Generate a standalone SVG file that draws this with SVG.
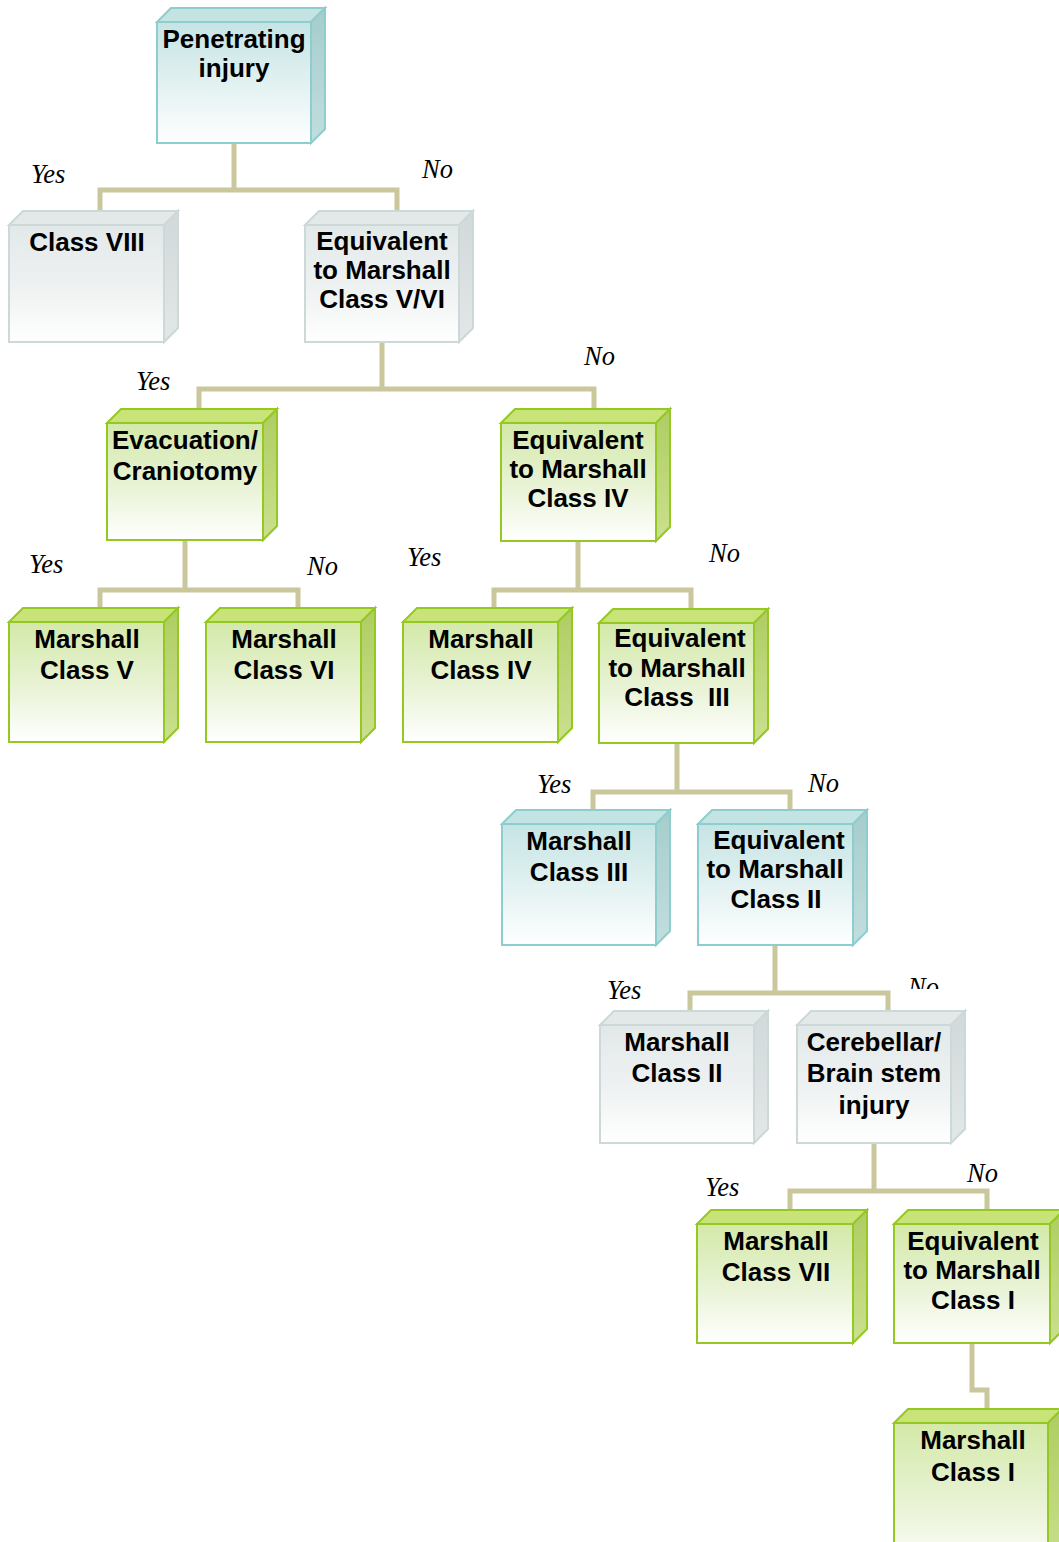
<svg xmlns="http://www.w3.org/2000/svg" width="1059" height="1542" viewBox="0 0 1059 1542">
<defs>
<linearGradient id="gBlue" x1="0" y1="0" x2="0" y2="1"><stop offset="0" stop-color="#c6e4e4"/><stop offset="0.55" stop-color="#e4f2f2"/><stop offset="1" stop-color="#ffffff"/></linearGradient>
<linearGradient id="gGray" x1="0" y1="0" x2="0" y2="1"><stop offset="0" stop-color="#e2e8e8"/><stop offset="0.55" stop-color="#eff2f2"/><stop offset="1" stop-color="#ffffff"/></linearGradient>
<linearGradient id="gGreen" x1="0" y1="0" x2="0" y2="1"><stop offset="0" stop-color="#d3e9a8"/><stop offset="0.55" stop-color="#e9f3d6"/><stop offset="1" stop-color="#ffffff"/></linearGradient>
<linearGradient id="sBlue" x1="0" y1="0" x2="0" y2="1"><stop offset="0" stop-color="#a6cccc"/><stop offset="1" stop-color="#c2dede"/></linearGradient>
<linearGradient id="sGray" x1="0" y1="0" x2="0" y2="1"><stop offset="0" stop-color="#d2d9da"/><stop offset="1" stop-color="#e2e7e7"/></linearGradient>
<linearGradient id="sGreen" x1="0" y1="0" x2="0" y2="1"><stop offset="0" stop-color="#aecd62"/><stop offset="1" stop-color="#cbe08f"/></linearGradient>
</defs>
<style>
.blue .top{fill:#c4e3e3;stroke:#8ecdcd;stroke-width:2}
.blue .side{fill:url(#sBlue);stroke:#8ecdcd;stroke-width:2}
.blue .front{fill:url(#gBlue);stroke:#8ecdcd;stroke-width:2}
.gray .top{fill:#e3e9e9;stroke:#cdd8d8;stroke-width:2}
.gray .side{fill:url(#sGray);stroke:#cdd8d8;stroke-width:2}
.gray .front{fill:url(#gGray);stroke:#cdd8d8;stroke-width:2}
.green .top{fill:#c8e378;stroke:#95c823;stroke-width:2}
.green .side{fill:url(#sGreen);stroke:#95c823;stroke-width:2}
.green .front{fill:url(#gGreen);stroke:#95c823;stroke-width:2}
.t{font-family:"Liberation Sans",Arial,sans-serif;font-weight:bold;font-size:26px;fill:#000;text-anchor:middle}
.lbl{font-family:"Liberation Serif","Times New Roman",serif;font-style:italic;font-size:26.5px;fill:#000}
.conn{fill:none;stroke:#c9c79b;stroke-width:5;stroke-linejoin:miter;stroke-linecap:butt}
</style>
<g id="connectors">
<path class="conn" d="M234,143 V190 M100,210 V190 H397 V210"/>
<path class="conn" d="M382,342 V389 M199,408 V389 H594 V408"/>
<path class="conn" d="M185,540 V590 M100,608 V590 H298 V608"/>
<path class="conn" d="M578,541 V590 M494,608 V590 H691 V608"/>
<path class="conn" d="M677,743 V792 M593,809 V792 H790 V809"/>
<path class="conn" d="M775,945 V993 M690,1012 V993 H888 V1012"/>
<path class="conn" d="M874,1143 V1191 M790,1210 V1191 H987 V1210"/>
<path class="conn" d="M972,1343 V1390 H987 V1409"/>
</g>
<g id="labels">
<text class="lbl" x="31" y="183">Yes</text>
<text class="lbl" x="422" y="178">No</text>
<text class="lbl" x="136" y="390">Yes</text>
<text class="lbl" x="584" y="365">No</text>
<text class="lbl" x="29" y="573">Yes</text>
<text class="lbl" x="307" y="575">No</text>
<text class="lbl" x="407" y="566">Yes</text>
<text class="lbl" x="709" y="562">No</text>
<text class="lbl" x="537" y="793">Yes</text>
<text class="lbl" x="808" y="792">No</text>
<text class="lbl" x="607" y="999">Yes</text>
<text class="lbl" x="908" y="996">No</text>
<rect x="893" y="989" width="70" height="22" fill="#ffffff"/>
<text class="lbl" x="705" y="1196">Yes</text>
<text class="lbl" x="967" y="1182">No</text>
</g>
<g id="n1" class="blue">
<path class="top" d="M157,22 L171,8 L325,8 L311,22 Z"/><path class="side" d="M311,22 L325,8 L325,129 L311,143 Z"/><rect class="front" x="157" y="22" width="154" height="121"/>
<text class="t" x="234" y="48">Penetrating</text><text class="t" x="234" y="77">injury</text>
</g>
<g id="n2" class="gray">
<path class="top" d="M9,225 L23,211 L178,211 L164,225 Z"/><path class="side" d="M164,225 L178,211 L178,328 L164,342 Z"/><rect class="front" x="9" y="225" width="155" height="117"/>
<text class="t" x="87" y="251">Class VIII</text>
</g>
<g id="n3" class="gray">
<path class="top" d="M305,225 L319,211 L473,211 L459,225 Z"/><path class="side" d="M459,225 L473,211 L473,328 L459,342 Z"/><rect class="front" x="305" y="225" width="154" height="117"/>
<text class="t" x="382" y="250">Equivalent</text><text class="t" x="382" y="279">to Marshall</text><text class="t" x="382" y="308">Class V/VI</text>
</g>
<g id="n4" class="green">
<path class="top" d="M107,423 L121,409 L277,409 L263,423 Z"/><path class="side" d="M263,423 L277,409 L277,526 L263,540 Z"/><rect class="front" x="107" y="423" width="156" height="117"/>
<text class="t" x="185" y="449">Evacuation/</text><text class="t" x="185" y="480">Craniotomy</text>
</g>
<g id="n5" class="green">
<path class="top" d="M501,423 L515,409 L670,409 L656,423 Z"/><path class="side" d="M656,423 L670,409 L670,527 L656,541 Z"/><rect class="front" x="501" y="423" width="155" height="118"/>
<text class="t" x="578" y="449">Equivalent</text><text class="t" x="578" y="478">to Marshall</text><text class="t" x="578" y="507">Class IV</text>
</g>
<g id="n6" class="green">
<path class="top" d="M9,622 L23,608 L178,608 L164,622 Z"/><path class="side" d="M164,622 L178,608 L178,728 L164,742 Z"/><rect class="front" x="9" y="622" width="155" height="120"/>
<text class="t" x="87" y="648">Marshall</text><text class="t" x="87" y="679">Class V</text>
</g>
<g id="n7" class="green">
<path class="top" d="M206,622 L220,608 L375,608 L361,622 Z"/><path class="side" d="M361,622 L375,608 L375,728 L361,742 Z"/><rect class="front" x="206" y="622" width="155" height="120"/>
<text class="t" x="284" y="648">Marshall</text><text class="t" x="284" y="679">Class VI</text>
</g>
<g id="n8" class="green">
<path class="top" d="M403,622 L417,608 L572,608 L558,622 Z"/><path class="side" d="M558,622 L572,608 L572,728 L558,742 Z"/><rect class="front" x="403" y="622" width="155" height="120"/>
<text class="t" x="481" y="648">Marshall</text><text class="t" x="481" y="679">Class IV</text>
</g>
<g id="n9" class="green">
<path class="top" d="M599,623 L613,609 L768,609 L754,623 Z"/><path class="side" d="M754,623 L768,609 L768,729 L754,743 Z"/><rect class="front" x="599" y="623" width="155" height="120"/>
<text class="t" x="680" y="647">Equivalent</text><text class="t" x="677" y="677">to Marshall</text><text class="t" x="677" y="706">Class&#160; III</text>
</g>
<g id="n10" class="blue">
<path class="top" d="M502,824 L516,810 L670,810 L656,824 Z"/><path class="side" d="M656,824 L670,810 L670,931 L656,945 Z"/><rect class="front" x="502" y="824" width="154" height="121"/>
<text class="t" x="579" y="850">Marshall</text><text class="t" x="579" y="881">Class III</text>
</g>
<g id="n11" class="blue">
<path class="top" d="M698,824 L712,810 L867,810 L853,824 Z"/><path class="side" d="M853,824 L867,810 L867,931 L853,945 Z"/><rect class="front" x="698" y="824" width="155" height="121"/>
<text class="t" x="779" y="849">Equivalent</text><text class="t" x="775" y="878">to Marshall</text><text class="t" x="776" y="908">Class II</text>
</g>
<g id="n12" class="gray">
<path class="top" d="M600,1025 L614,1011 L768,1011 L754,1025 Z"/><path class="side" d="M754,1025 L768,1011 L768,1129 L754,1143 Z"/><rect class="front" x="600" y="1025" width="154" height="118"/>
<text class="t" x="677" y="1051">Marshall</text><text class="t" x="677" y="1082">Class II</text>
</g>
<g id="n13" class="gray">
<path class="top" d="M797,1025 L811,1011 L965,1011 L951,1025 Z"/><path class="side" d="M951,1025 L965,1011 L965,1129 L951,1143 Z"/><rect class="front" x="797" y="1025" width="154" height="118"/>
<text class="t" x="874" y="1051">Cerebellar/</text><text class="t" x="874" y="1082">Brain stem</text><text class="t" x="874" y="1114">injury</text>
</g>
<g id="n14" class="green">
<path class="top" d="M697,1224 L711,1210 L867,1210 L853,1224 Z"/><path class="side" d="M853,1224 L867,1210 L867,1329 L853,1343 Z"/><rect class="front" x="697" y="1224" width="156" height="119"/>
<text class="t" x="776" y="1250">Marshall</text><text class="t" x="776" y="1281">Class VII</text>
</g>
<g id="n15" class="green">
<path class="top" d="M894,1224 L908,1210 L1064,1210 L1050,1224 Z"/><path class="side" d="M1050,1224 L1064,1210 L1064,1329 L1050,1343 Z"/><rect class="front" x="894" y="1224" width="156" height="119"/>
<text class="t" x="973" y="1250">Equivalent</text><text class="t" x="972" y="1279">to Marshall</text><text class="t" x="973" y="1309">Class I</text>
</g>
<g id="n16" class="green">
<path class="top" d="M894,1423 L908,1409 L1062,1409 L1048,1423 Z"/><path class="side" d="M1048,1423 L1062,1409 L1062,1560 L1048,1574 Z"/><rect class="front" x="894" y="1423" width="154" height="150"/>
<text class="t" x="973" y="1449">Marshall</text><text class="t" x="973" y="1481">Class I</text>
</g>
</svg>
